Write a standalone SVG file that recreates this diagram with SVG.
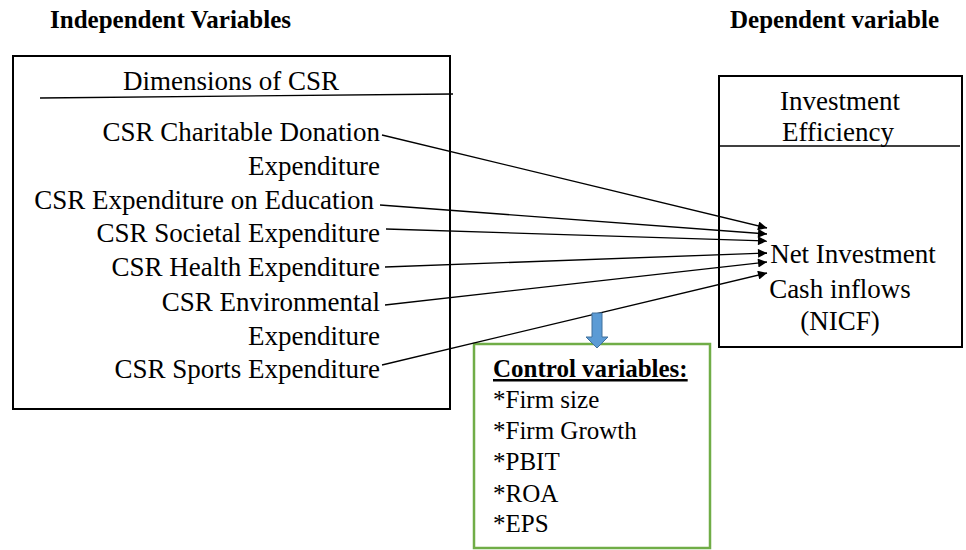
<svg xmlns="http://www.w3.org/2000/svg" width="966" height="550" viewBox="0 0 966 550" font-family="'Liberation Serif', 'DejaVu Serif', serif">
<style>
.h{font-size:25px;font-weight:bold}
.b{font-size:27px}
.c{font-size:25px}
.box{fill:#fff;stroke:#000;stroke-width:2}
.conn{stroke:#000;stroke-width:1.3;fill:none}
</style>
<defs>
<marker id="ah" viewBox="0 0 10 10" refX="10" refY="5" markerWidth="10" markerHeight="9" markerUnits="userSpaceOnUse" orient="auto">
<path d="M0,0 L10,5 L0,10 Z" fill="#000"/>
</marker>
</defs>
<text class="h" x="50" y="28">Independent Variables</text>
<text class="h" x="730" y="28">Dependent variable</text>
<g id="independent">
<rect class="box" x="13" y="56" width="437" height="353"/>
<text class="b" x="231" y="90" text-anchor="middle">Dimensions of CSR</text>
<line x1="40" y1="98" x2="453" y2="94" stroke="#000" stroke-width="1.3"/>
<g text-anchor="end">
<text class="b" x="380" y="141">CSR Charitable Donation</text>
<text class="b" x="380" y="175">Expenditure</text>
<text class="b" x="374" y="209">CSR Expenditure on Education</text>
<text class="b" x="380" y="242">CSR Societal Expenditure</text>
<text class="b" x="380" y="276">CSR Health Expenditure</text>
<text class="b" x="380" y="311">CSR Environmental</text>
<text class="b" x="380" y="345">Expenditure</text>
<text class="b" x="380" y="378">CSR Sports Expenditure</text>
</g>
</g>
<g id="dependent">
<rect class="box" x="719" y="76" width="243" height="271"/>
<line x1="719" y1="146" x2="960" y2="146" stroke="#000" stroke-width="1.3"/>
<text class="b" x="840" y="110" text-anchor="middle">Investment</text>
<text class="b" x="838" y="141" text-anchor="middle">Efficiency</text>
<text class="b" x="853" y="263" text-anchor="middle">Net Investment</text>
<text class="b" x="840" y="298" text-anchor="middle">Cash inflows</text>
<text class="b" x="840" y="330" text-anchor="middle">(NICF)</text>
</g>
<g id="control">
<rect x="474" y="344" width="236" height="204" fill="#fff" stroke="#70AD47" stroke-width="2.5"/>
<text class="c" x="493" y="377" font-weight="bold" text-decoration="underline">Control variables:</text>
<text class="c" x="493" y="408">*Firm size</text>
<text class="c" x="493" y="439">*Firm Growth</text>
<text class="c" x="493" y="470">*PBIT</text>
<text class="c" x="493" y="502">*ROA</text>
<text class="c" x="493" y="532">*EPS</text>
</g>
<g id="connectors">
<line class="conn" x1="382" y1="135" x2="767" y2="228" marker-end="url(#ah)"/>
<line class="conn" x1="380" y1="205" x2="767" y2="234" marker-end="url(#ah)"/>
<line class="conn" x1="386" y1="229" x2="767" y2="241" marker-end="url(#ah)"/>
<line class="conn" x1="385" y1="267" x2="767" y2="253" marker-end="url(#ah)"/>
<line class="conn" x1="385" y1="305" x2="767" y2="262" marker-end="url(#ah)"/>
<line class="conn" x1="382" y1="365" x2="767" y2="273" marker-end="url(#ah)"/>
<path d="M592,313 L602,313 L602,337 L608,337 L597,348 L586,337 L592,337 Z" fill="#5B9BD5" stroke="#41719C" stroke-width="1"/>
</g>
</svg>
